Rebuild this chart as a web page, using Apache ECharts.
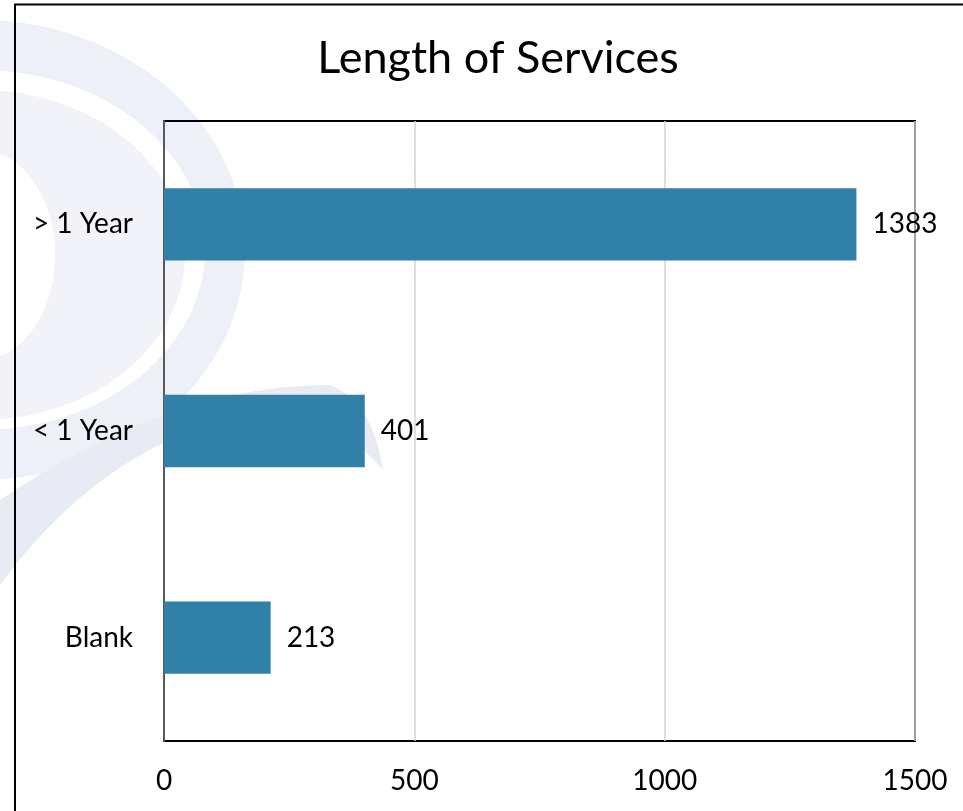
<!DOCTYPE html>
<html>
<head>
<meta charset="utf-8">
<script src="https://cdn.jsdelivr.net/npm/echarts@6/dist/echarts.min.js"></script>
<style>
  html, body { margin: 0; padding: 0; background: #fff; }
  #lengthChart { width: 963px; height: 811px; }
</style>
</head>
<body>
<div id="lengthChart"></div>
<script>
const categories = ['> 1 Year', '< 1 Year', 'Blank'];
const counts = [1383, 401, 213];
const xTicks = [0, 500, 1000, 1500];

// helpers for the faint watermark swirl (decoration only)
function quad(p0, p1, p2, n) {
  const pts = [];
  for (let i = 0; i <= n; i++) {
    const t = i / n, u = 1 - t;
    pts.push([u * u * p0[0] + 2 * u * t * p1[0] + t * t * p2[0],
              u * u * p0[1] + 2 * u * t * p1[1] + t * t * p2[1]]);
  }
  return pts;
}
function ellipseBand(cx, cy, rx0, ry0, rx1, ry1) {
  const outer = [], inner = [];
  for (let i = 0; i <= 60; i++) {
    const a = -Math.PI / 2 + Math.PI * i / 60;
    outer.push([cx + rx1 * Math.cos(a), cy + ry1 * Math.sin(a)]);
    inner.push([cx + rx0 * Math.cos(a), cy + ry0 * Math.sin(a)]);
  }
  return outer.concat(inner.reverse());
}

document.addEventListener('DOMContentLoaded', function() {
  const lengthChart = echarts.init(document.getElementById('lengthChart'));
  const font = 'Lato, "Noto Sans", sans-serif';
  const swoosh = quad([0, 500], [170, 385], [330, 385], 20)
    .concat(quad([330, 385], [372, 400], [383, 470], 12))
    .concat(quad([383, 470], [330, 405], [230, 420], 12))
    .concat(quad([230, 420], [100, 450], [0, 585], 20));
  const option = {
    animation: false,
    backgroundColor: '#fff',
    graphic: [
      { type: 'polygon', z: -10, shape: { points: ellipseBand(-20, 250, 225, 180, 265, 230) },
        style: { fill: '#eef0f7' } },
      { type: 'polygon', z: -10, shape: { points: ellipseBand(-20, 255, 75, 105, 205, 165) },
        style: { fill: '#f1f3f9' } },
      { type: 'polygon', z: -10, shape: { points: swoosh }, style: { fill: '#e9ebf4' } },
      { type: 'rect', z: 100, shape: { x: 15, y: 4.5, width: 1000, height: 900 },
        style: { fill: 'none', stroke: '#000', lineWidth: 2 } }
    ],
    title: {
      text: 'Length of Services',
      left: 493,
      top: 31,
      textAlign: 'center',
      textStyle: { fontFamily: font, fontSize: 45, fontWeight: 'normal', color: '#000' }
    },
    grid: {
      left: 164, top: 121, right: 48, bottom: 70,
      outerBoundsMode: 'none',
      show: true, borderColor: '#000', borderWidth: 2, backgroundColor: 'transparent'
    },
    xAxis: {
      type: 'value',
      min: xTicks[0],
      max: xTicks[xTicks.length - 1],
      interval: xTicks[1] - xTicks[0],
      axisLine: { show: false },
      axisTick: { show: false },
      axisLabel: {
        color: '#000', fontFamily: font, fontSize: 28, margin: 26,
        formatter: function(v) { return String(v); }
      },
      splitLine: { lineStyle: { color: '#d4d4d4', width: 1.5 } }
    },
    yAxis: {
      type: 'category',
      inverse: true,
      data: categories,
      axisLine: { show: true, lineStyle: { color: '#595959', width: 2 } },
      axisTick: { show: false },
      axisLabel: { color: '#000', fontFamily: font, fontSize: 28, margin: 31 }
    },
    series: [{
      type: 'bar',
      data: counts,
      barWidth: '35%',
      itemStyle: { color: '#3180a7' },
      label: {
        show: true,
        position: 'right',
        distance: 16,
        color: '#000',
        fontFamily: font,
        fontSize: 28
      }
    }]
  };
  lengthChart.setOption(option);
});
</script>
</body>
</html>
